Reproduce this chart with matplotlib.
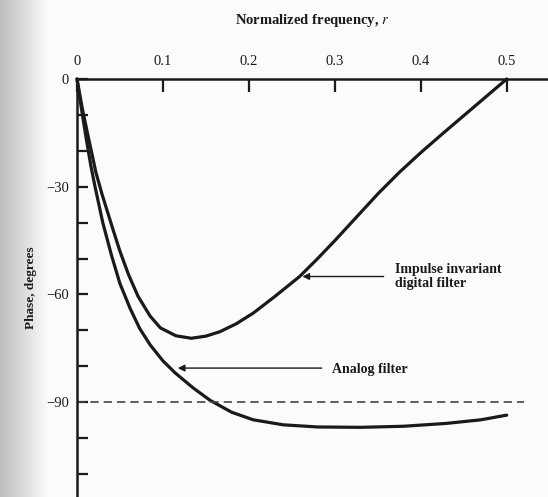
import matplotlib
matplotlib.use("Agg")
from matplotlib import pyplot as plt
from matplotlib.ticker import FixedLocator, MultipleLocator
import numpy as np

# values
r_analog = [0, 0.005, 0.011, 0.016, 0.021, 0.030, 0.040, 0.050, 0.062, 0.073,
            0.085, 0.100, 0.114, 0.135, 0.155, 0.18, 0.205, 0.24, 0.28, 0.33,
            0.38, 0.43, 0.47, 0.50]
phase_analog = [0, -8, -17, -24, -30, -40, -49, -57, -64, -69.5,
                -74, -78.5, -81.8, -86, -89.5, -92.8, -94.9, -96.3, -96.9, -97,
                -96.7, -95.9, -94.9, -93.6]

r_digital = [0, 0.006, 0.013, 0.022, 0.029, 0.042, 0.050, 0.060, 0.071, 0.085,
             0.097, 0.115, 0.133, 0.150, 0.166, 0.185, 0.205, 0.23, 0.259, 0.28,
             0.30, 0.325, 0.35, 0.375, 0.40, 0.425, 0.45, 0.475, 0.50]
phase_digital = [0, -8, -16, -26, -32, -42, -48, -54.5, -60.5, -66,
                 -69.3, -71.5, -72.2, -71.6, -70.4, -68.2, -65.2, -60.6, -55, -50,
                 -45, -38.5, -32, -26, -20.5, -15.3, -10.2, -5.1, 0]

x_ticks = [0, 0.1, 0.2, 0.3, 0.4, 0.5]
x_labels = ["0", "0.1", "0.2", "0.3", "0.4", "0.5"]
y_ticks = [0, -30, -60, -90]
y_labels = ["0", "\u221230", "\u221260", "\u221290"]

plt.rcParams["font.family"] = ["Liberation Serif", "DejaVu Serif"]
plt.rcParams["mathtext.fontset"] = "stix"
ink = "#1a1a1a"

fig = plt.figure(figsize=(5.48, 4.97), dpi=100)
fig.patch.set_facecolor("#fbfbf9")

# greyish scan margin on the left
bg = fig.add_axes([0, 0, 0.09, 1], zorder=-5)
grad = np.linspace(0, 1, 50)[None, :]
bg.imshow(grad, cmap="gray", vmin=-1.2, vmax=1.0, aspect="auto", alpha=0.55)
bg.axis("off")

ax = fig.add_axes([77 / 548, 0, 471 / 548, 418 / 497])
ax.set_facecolor("none")
ax.set_xlim(0, 0.548)
ax.set_ylim(-116.4, 0)

line_kw = dict(color=ink, lw=2.3, solid_capstyle="round", solid_joinstyle="round", clip_on=False)
ax.plot(r_analog, phase_analog, **line_kw)
ax.plot(r_digital, phase_digital, **line_kw)
ax.plot([0, 0.52], [-90, -90], color="#444444", lw=1.2, ls=(0, (5, 3)))

for side in ["right", "bottom"]:
    ax.spines[side].set_visible(False)
for side in ["top", "left"]:
    ax.spines[side].set_linewidth(1.8)
    ax.spines[side].set_color(ink)

ax.xaxis.tick_top()
ax.xaxis.set_label_position("top")
ax.set_xticks(x_ticks)
ax.set_xticklabels(x_labels, fontsize=10.5, color=ink)
ax.yaxis.set_major_locator(FixedLocator(y_ticks))
ax.set_yticklabels(y_labels, fontsize=10.5, color=ink)
ax.yaxis.set_minor_locator(MultipleLocator(10))
ax.tick_params(axis="x", direction="in", length=9, width=1.6, pad=8, colors=ink)
ax.tick_params(axis="y", which="both", direction="in", length=8, width=1.6, pad=6, colors=ink)

ax.set_xlabel("Normalized frequency, $r$", fontsize=10.5, fontweight="bold",
              labelpad=22, color=ink)
ax.set_ylabel("Phase, degrees", fontsize=9.5, fontweight="bold", labelpad=6, color=ink)

arrow = dict(arrowstyle="-|>", color=ink, lw=1.0, mutation_scale=10)
ax.annotate("", xy=(0.259, -55), xytext=(0.36, -55), arrowprops=arrow)
ax.text(0.37, -55, "Impulse invariant\ndigital filter", fontsize=10, fontweight="bold",
        va="center", ha="left", color=ink, linespacing=1.1)
ax.annotate("", xy=(0.114, -80.5), xytext=(0.288, -80.5), arrowprops=arrow)
ax.text(0.297, -80.8, "Analog filter", fontsize=10, fontweight="bold",
        va="center", ha="left", color=ink)

fig.savefig("out.png", dpi=100, facecolor=fig.get_facecolor())
